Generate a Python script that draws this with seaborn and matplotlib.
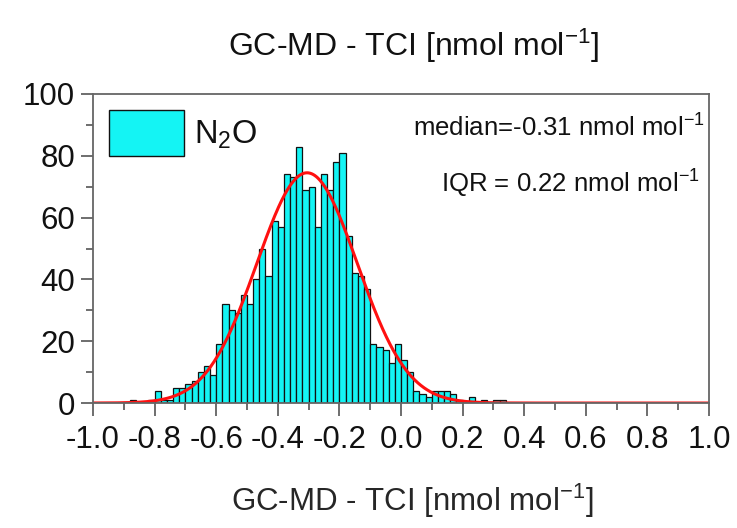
import numpy as np
import pandas as pd
import matplotlib
matplotlib.use("Agg")
import matplotlib.pyplot as plt
from matplotlib.patches import Patch
from matplotlib.ticker import MultipleLocator
import seaborn as sns

# Histogram of GC-MD minus TCI differences, 0.02 nmol/mol bins (left edges)
bin_left = [-0.88, -0.86, -0.84, -0.82, -0.80, -0.78, -0.76, -0.74, -0.72, -0.70,
            -0.68, -0.66, -0.64, -0.62, -0.60, -0.58, -0.56, -0.54, -0.52, -0.50,
            -0.48, -0.46, -0.44, -0.42, -0.40, -0.38, -0.36, -0.34, -0.32, -0.30,
            -0.28, -0.26, -0.24, -0.22, -0.20, -0.18, -0.16, -0.14, -0.12, -0.10,
            -0.08, -0.06, -0.04, -0.02, 0.00, 0.02, 0.04, 0.06, 0.08, 0.10,
            0.12, 0.14, 0.16, 0.18, 0.20, 0.22, 0.24, 0.26, 0.28, 0.30, 0.32]
counts = [1, 0, 0, 1, 4, 1, 1, 5, 5, 6,
          7, 10, 12, 9, 19, 32, 30, 29, 35, 32,
          40, 50, 41, 59, 57, 74, 73, 83, 69, 70,
          57, 74, 69, 78, 81, 54, 42, 41, 37, 19,
          18, 17, 13, 19, 14, 10, 4, 3, 2, 4,
          4, 4, 3, 1, 0, 2, 0, 1, 0, 1, 1]
bin_width = 0.02

# Gaussian fit parameters (peak height, centre, width)
fit_peak = 74.5
fit_center = -0.305
fit_sigma = 0.163

median_value = -0.31
iqr_value = 0.22

x_ticks = [-1.0, -0.8, -0.6, -0.4, -0.2, 0.0, 0.2, 0.4, 0.6, 0.8, 1.0]
y_ticks = [0, 20, 40, 60, 80, 100]

sns.set_theme(style="white")
plt.rcParams["font.family"] = ["Liberation Sans", "DejaVu Sans"]
plt.rcParams["mathtext.fontset"] = "custom"
plt.rcParams["mathtext.rm"] = "Liberation Sans"
plt.rcParams["axes.unicode_minus"] = False
plt.rcParams["text.color"] = "#111111"

fig = plt.figure(figsize=(7.37, 5.28), dpi=100)
ax = fig.add_axes([0.1262, 0.2367, 0.8358, 0.5853])

df = pd.DataFrame({"left": bin_left, "count": counts})
df["center"] = df["left"] + bin_width / 2
edges = [round(v, 2) for v in bin_left] + [round(bin_left[-1] + bin_width, 2)]

bar_color = "#14F4F4"
sns.histplot(data=df, x="center", weights="count", bins=edges, ax=ax,
             color=bar_color, edgecolor="#111111", linewidth=0.9, alpha=1.0)

xs = np.linspace(-1.0, 1.0, 801)
fit_df = pd.DataFrame({"x": xs,
                       "y": fit_peak * np.exp(-0.5 * ((xs - fit_center) / fit_sigma) ** 2)})
sns.lineplot(data=fit_df, x="x", y="y", ax=ax, color="#FF1010", linewidth=2.2)

ax.set_xlim(-1.0, 1.0)
ax.set_ylim(0, 100)
ax.set_xticks(x_ticks)
ax.set_xticklabels([f"{v:.1f}" for v in x_ticks])
ax.set_yticks(y_ticks)
ax.xaxis.set_minor_locator(MultipleLocator(0.1))
ax.yaxis.set_minor_locator(MultipleLocator(10))
ax.tick_params(axis="both", which="major", direction="out", length=9, width=1.2,
               color="#555555", labelcolor="#111111", labelsize=22.5, pad=4,
               bottom=True, left=True)
ax.tick_params(axis="x", which="major", pad=7)
ax.tick_params(axis="both", which="minor", direction="out", length=5, width=1.2,
               color="#555555", bottom=True, left=True)
for side in ["top", "right", "bottom", "left"]:
    ax.spines[side].set_visible(True)
    ax.spines[side].set_color("#666666")
    ax.spines[side].set_linewidth(1.3)

unit = r"nmol mol$\mathregular{^{-1}}$"
ax.set_xlabel(f"GC-MD - TCI [{unit}]", fontsize=22.5)
ax.xaxis.set_label_coords(0.518, -0.255)
ax.set_ylabel("")
ax.set_title(f"GC-MD - TCI [{unit}]", fontsize=23, pad=27, x=0.52)

ax.text(0.9935, 0.862, f"median={median_value:.2f} {unit}", transform=ax.transAxes,
        ha="right", va="baseline", fontsize=18.5)
ax.text(0.985, 0.68, f"IQR = {iqr_value:.2f} {unit}", transform=ax.transAxes,
        ha="right", va="baseline", fontsize=18.5)

handle = Patch(facecolor=bar_color, edgecolor="#111111", linewidth=1.0)
ax.legend([handle], [r"N$\mathregular{_2}$O"], loc="upper left", frameon=False,
          fontsize=23.5, handlelength=2.3, handleheight=1.8, handletextpad=0.3,
          borderaxespad=0.2, borderpad=0.3)

fig.savefig("out.png", dpi=100)
